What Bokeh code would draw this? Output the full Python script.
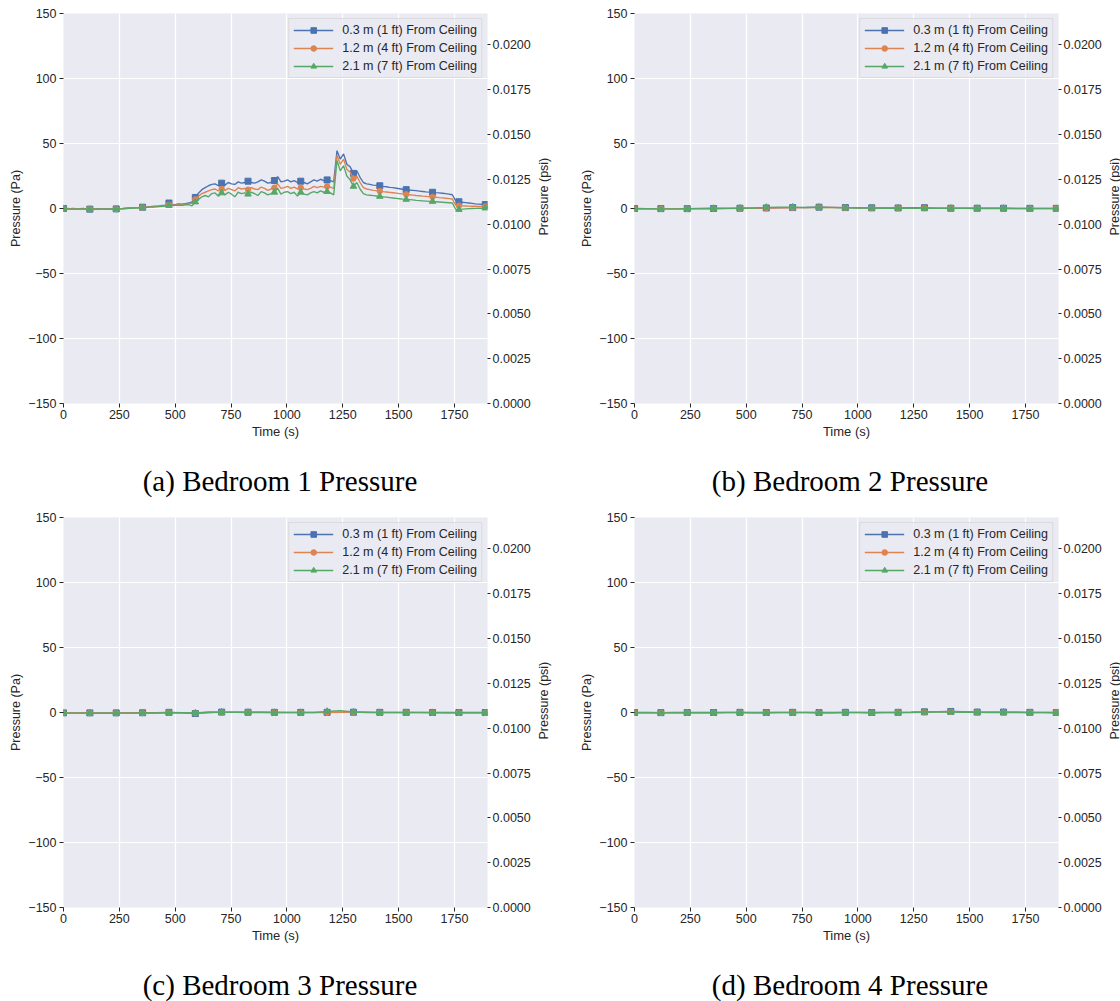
import math
import numpy as np
from bokeh.plotting import figure
from bokeh.models import (Range1d, LinearAxis, FixedTicker, Legend, LegendItem,
                          NumeralTickFormatter, CustomJSTickFormatter)
from bokeh.core.properties import value
from bokeh.layouts import row, column
from bokeh.embed import file_html
from bokeh.resources import INLINE

# ---------------- labels / ticks ----------------
series_labels = ["0.3 m (1 ft) From Ceiling", "1.2 m (4 ft) From Ceiling", "2.1 m (7 ft) From Ceiling"]
captions_top = ["(a) Bedroom 1 Pressure", "(b) Bedroom 2 Pressure"]
captions_bottom = ["(c) Bedroom 3 Pressure", "(d) Bedroom 4 Pressure"]
right_axis_title = "Pressure (psi)"
time_ticks = [0, 250, 500, 750, 1000, 1250, 1500, 1750]
pa_ticks = [-150, -100, -50, 0, 50, 100, 150]
psi_ticks = [0.0, 0.0025, 0.005, 0.0075, 0.01, 0.0125, 0.015, 0.0175, 0.02]

# ---------------- Bedroom 1 (sampled every 14.75 s) ----------------
dt_bed1 = 14.75
bed1_top = [
    0.0, 0.0, -0.2, 0.0, -0.3, -0.2, 0.0, -0.3,
    -0.5, -0.3, -0.4, -0.2, -0.3, -0.4, -0.3, -0.2,
    -0.3, -0.1, 0.0, 0.2, 0.4, 0.5, 0.7, 0.8,
    1.0, 1.1, 1.4, 1.6, 1.8, 2.0, 2.3, 2.6,
    4.2, 3.0, 3.2, 3.5, 3.4, 3.8, 4.2, 5.0,
    8.5, 12.0, 14.5, 16.0, 17.5, 18.5, 19.0, 17.5,
    19.5, 18.0, 20.0, 19.0, 18.5, 20.5, 19.5, 20.0,
    21.0, 20.0, 19.5, 20.5, 22.0, 21.0, 19.5, 20.0,
    21.5, 24.5, 20.5, 21.0, 22.0, 20.5, 21.5, 20.0,
    21.0, 20.0, 19.0, 20.5, 22.0, 21.0, 22.5, 21.5,
    22.0, 21.5, 20.5, 44.5, 38.0, 42.0, 34.0, 32.0,
    27.0, 29.0, 24.0, 20.0, 19.0, 18.5, 18.0, 17.8,
    17.5, 17.0, 16.7, 16.3, 16.0, 15.6, 15.2, 14.8,
    14.5, 14.2, 14.0, 13.7, 13.4, 13.1, 12.8, 12.6,
    12.5, 12.2, 12.0, 11.7, 11.4, 11.1, 10.6, 6.0,
    5.2, 4.8, 4.5, 4.2, 3.9, 3.6, 3.4, 3.2,
    3.0, 2.8,
]
bed1_mid = [
    0.0, -0.2, -0.3, -0.2, -0.4, -0.3, -0.2, -0.4,
    -0.5, -0.4, -0.5, -0.3, -0.4, -0.5, -0.3, -0.3,
    -0.4, -0.2, -0.1, 0.1, 0.3, 0.4, 0.5, 0.6,
    0.8, 0.9, 1.2, 1.3, 1.5, 1.7, 2.0, 2.2,
    2.8, 2.6, 2.8, 3.0, 3.0, 3.3, 3.6, 4.2,
    7.0, 9.5, 11.5, 12.5, 13.5, 14.5, 15.0, 13.5,
    15.0, 14.0, 15.5, 14.5, 13.5, 16.0, 15.0, 15.5,
    14.5, 16.0, 15.0, 14.5, 16.5, 15.5, 14.0, 15.0,
    16.0, 19.0, 15.5, 16.0, 17.0, 15.5, 16.5, 15.0,
    16.0, 15.0, 14.5, 15.5, 17.0, 16.0, 17.0, 16.5,
    17.0, 16.5, 15.5, 41.0, 34.0, 38.0, 30.0, 28.0,
    23.0, 25.0, 20.0, 16.0, 15.0, 14.5, 14.0, 13.7,
    13.4, 13.0, 12.7, 12.4, 12.1, 11.8, 11.5, 11.2,
    10.9, 10.6, 10.3, 10.0, 9.8, 9.5, 9.3, 9.1,
    8.9, 8.7, 8.4, 8.2, 7.9, 7.6, 7.3, 2.6,
    2.2, 2.0, 1.9, 1.8, 1.7, 1.7, 1.6, 1.6,
    1.5, 1.5,
]
bed1_low = [
    -0.2, -0.4, -0.5, -0.3, -0.5, -0.4, -0.3, -0.5,
    -0.7, -0.5, -0.6, -0.4, -0.5, -0.6, -0.4, -0.4,
    -0.5, -0.3, -0.2, 0.0, 0.2, 0.3, 0.4, 0.5,
    0.6, 0.7, 1.0, 1.1, 1.3, 1.5, 1.7, 1.9,
    2.3, 2.2, 2.4, 2.6, 2.5, 2.8, 3.0, 2.0,
    5.0, 7.0, 9.0, 10.0, 9.0, 11.5, 12.0, 9.5,
    12.0, 10.5, 12.5, 11.0, 9.0, 12.5, 11.5, 12.0,
    11.0, 12.5, 11.5, 10.0, 13.0, 12.0, 10.5, 11.5,
    12.5, 15.5, 11.0, 12.5, 13.0, 11.5, 12.5, 9.5,
    12.5, 11.0, 10.5, 12.0, 13.0, 12.0, 13.5, 12.5,
    13.0, 12.0, 10.5, 37.0, 29.0, 33.0, 25.0, 22.0,
    17.0, 20.0, 15.0, 11.5, 10.5, 10.2, 9.9, 9.6,
    9.3, 9.0, 8.7, 8.4, 8.1, 7.8, 7.5, 7.2,
    7.0, 6.8, 6.6, 6.3, 6.1, 5.9, 5.7, 5.5,
    5.4, 5.2, 5.0, 4.8, 4.6, 4.4, 4.2, -0.6,
    -0.8, -0.5, -0.3, -0.1, 0.0, 0.1, 0.2, 0.2,
    0.3, 0.3,
]

# ---------------- Bedrooms 2-4 (sampled every 59 s) ----------------
dt_other = 59.0
bed2_top = [0.0, -0.1, -0.1, -0.2, -0.1, 0.0, 0.0, 0.1, 0.2, 0.2, 0.4, 0.5, 0.7, 0.8, 1.0, 0.9, 0.7,
            0.6, 0.5, 0.4, 0.4, 0.6, 0.6, 0.3, 0.2, 0.3, 0.2, 0.2, 0.2, 0.1, 0.1, 0.1, 0.1]
bed2_mid = [-0.1, -0.2, -0.2, -0.2, -0.1, -0.1, 0.0, 0.0, 0.1, 0.2, 0.3, 0.5, 0.6, 0.7, 0.9, 0.8, 0.6,
            0.5, 0.4, 0.3, 0.3, 0.3, 0.3, 0.2, 0.2, 0.2, 0.1, 0.1, 0.1, 0.0, 0.0, 0.0, 0.0]
bed2_low = [-0.2, -0.2, -0.3, -0.3, -0.2, -0.1, 0.0, 0.1, 0.2, 0.4, 0.8, 1.1, 1.0, 0.8, 0.9, 0.7, 0.5,
            0.4, 0.3, 0.2, 0.2, 0.2, 0.1, 0.1, 0.1, 0.1, 0.0, 0.0, 0.0, -0.1, -0.1, -0.1, -0.1]

bed3_top = [-0.3, -0.3, -0.3, -0.4, -0.3, -0.3, -0.2, -0.2, 0.1, -0.2, -0.8, 0.0, 0.3, 0.3, 0.2, 0.2, 0.1,
            0.1, 0.1, 0.1, 0.1, 0.2, 0.2, 0.2, 0.1, 0.1, 0.1, 0.1, 0.0, 0.0, 0.0, 0.0, 0.0]
bed3_mid = [-0.4, -0.4, -0.4, -0.5, -0.4, -0.4, -0.3, -0.3, 0.0, -0.3, -0.6, -0.1, 0.2, 0.2, 0.1, 0.1, 0.0,
            0.0, 0.0, 0.0, 0.0, 0.1, 0.1, 0.1, 0.0, 0.0, 0.0, 0.0, -0.1, -0.1, -0.1, -0.1, -0.1]
bed3_low = [-0.5, -0.5, -0.5, -0.6, -0.5, -0.5, -0.4, -0.4, -0.1, -0.2, -0.4, 0.4, 0.1, 0.1, 0.0, 0.0, 0.0,
            -0.1, -0.1, -0.1, 0.8, 1.5, 0.4, 0.0, -0.1, -0.1, -0.1, -0.1, -0.1, -0.2, -0.2, -0.2, -0.2]

bed4_top = [0.0, 0.0, -0.1, 0.0, 0.0, 0.0, 0.0, 0.1, 0.1, 0.0, 0.0, 0.1, 0.1, 0.1, 0.0, 0.0, 0.1,
            0.1, 0.0, 0.1, 0.1, 0.2, 0.5, 0.7, 0.8, 0.6, 0.3, 0.2, 0.3, 0.2, 0.1, 0.1, 0.0]
bed4_mid = [-0.1, -0.1, -0.2, -0.1, -0.1, -0.1, -0.1, 0.0, 0.0, -0.1, -0.1, 0.0, 0.0, 0.0, -0.1, -0.1, 0.0,
            0.0, -0.1, 0.0, 0.0, 0.1, 0.3, 0.5, 0.5, 0.4, 0.2, 0.1, 0.2, 0.1, 0.0, 0.0, -0.1]
bed4_low = [-0.2, -0.2, -0.3, -0.2, -0.2, -0.2, -0.2, -0.1, -0.1, -0.2, -0.2, -0.1, -0.1, -0.1, -0.2, -0.2, -0.1,
            -0.1, -0.2, -0.1, -0.1, 0.0, 0.2, 0.3, 0.3, 0.2, 0.1, 0.0, 0.1, 0.0, -0.1, -0.1, -0.2]

COLORS = ["#4C72B0", "#DD8452", "#55A868"]
MARKERS = ["square", "circle", "triangle"]
MSIZES = [6, 5.5, 6.5]
TXT = "#262626"
SANS = "Liberation Sans"
FW, FH = 424, 390
TOP_B, BOT_B, RIGHT_B = 13, 40, 50
PANEL_H = TOP_B + FH + BOT_B


def make_panel(dt, series, mark_every, left_border):
    n = len(series[0])
    t = np.arange(n) * dt
    p = figure(frame_width=FW, frame_height=FH,
               x_range=Range1d(0, 1898), y_range=Range1d(-150, 150),
               output_backend="svg", toolbar_location=None, title=None,
               min_border_left=left_border, min_border_right=RIGHT_B, min_border_top=TOP_B,
               min_border_bottom=BOT_B,
               background_fill_color="#EAEAF2", border_fill_color="white",
               outline_line_color=None)
    p.extra_y_ranges = {"psi": Range1d(0, 0.021756)}
    rax = LinearAxis(y_range_name="psi",
                     ticker=FixedTicker(ticks=psi_ticks),
                     formatter=NumeralTickFormatter(format="0.0000"))
    p.add_layout(rax, "right")

    p.xaxis.ticker = FixedTicker(ticks=time_ticks)
    p.xaxis.axis_label = "Time (s)"
    p.yaxis[0].ticker = FixedTicker(ticks=pa_ticks)
    p.yaxis[0].axis_label = "Pressure (Pa)"
    p.yaxis[0].formatter = CustomJSTickFormatter(
        code="return (tick < 0 ? '\u2212' : '') + Math.abs(tick).toFixed(0);")

    for ax in p.axis:
        ax.axis_line_color = None
        ax.major_tick_line_color = TXT
        ax.major_tick_in = 0
        ax.major_tick_out = 4
        ax.minor_tick_line_color = None
        ax.major_label_text_font = SANS
        ax.major_label_text_font_size = "12.5px"
        ax.major_label_text_color = TXT
        ax.major_label_standoff = 3
        ax.axis_label_text_font = SANS
        ax.axis_label_text_font_style = "normal"
        ax.axis_label_text_font_size = "12.5px"
        ax.axis_label_text_color = TXT
        ax.axis_label_standoff = 2
    rax.major_tick_out = 3
    rax.major_label_standoff = 2
    p.xaxis.major_label_standoff = 2
    p.xaxis.axis_label_text_font_size = "13px"
    p.xaxis.axis_label_standoff = 2

    p.xgrid.ticker = FixedTicker(ticks=time_ticks)
    p.ygrid.ticker = FixedTicker(ticks=pa_ticks)
    p.grid.grid_line_color = "white"
    p.grid.grid_line_width = 1.2

    items = []
    for vals, col, mk, ms, lab in zip(series, COLORS, MARKERS, MSIZES, series_labels):
        vals = np.asarray(vals, dtype=float)
        lr = p.line(t, vals, line_color=col, line_width=1.35)
        sr = p.scatter(t[::mark_every], vals[::mark_every], marker=mk, size=ms,
                       fill_color=col, line_color=col)
        items.append(LegendItem(label=lab, renderers=[lr, sr]))

    leg = Legend(items=items, location="top_right", margin=5, padding=4, spacing=4,
                 glyph_width=40, glyph_height=14, label_height=14, label_standoff=9,
                 label_text_font=SANS, label_text_font_size="12.5px", label_text_color=TXT,
                 background_fill_color="#EAEAF2", background_fill_alpha=0.8,
                 border_line_color="#CCCCCC", border_line_width=1)
    p.add_layout(leg)
    return p


def blank_strip(width, height):
    # a plain strip without axes whose data units equal pixels
    c = figure(width=width, height=height, x_range=Range1d(0, width), y_range=Range1d(0, height),
               x_axis_location=None, y_axis_location=None, output_backend="svg",
               toolbar_location=None, title=None, min_border=0,
               outline_line_color=None, background_fill_color="white",
               border_fill_color="white")
    c.grid.visible = False
    return c


def psi_title_strip(width, text_x):
    # the right-hand axis title, reading bottom-to-top
    c = blank_strip(width, PANEL_H)
    c.text(x=[text_x], y=[PANEL_H - TOP_B - FH / 2], text=[right_axis_title], angle=math.pi / 2,
           text_font=value(SANS), text_font_size=value("12.5px"), text_color=TXT,
           text_align="center", text_baseline="middle")
    return c


def caption_strip(texts, height, text_y):
    c = blank_strip(1110, height)
    c.text(x=[279.5, 849.5], y=[text_y, text_y], text=texts,
           text_font=value("Liberation Serif"), text_font_size=value("29px"),
           text_align="center", text_baseline="middle", text_color="black")
    return c


pa = make_panel(dt_bed1, [bed1_top, bed1_mid, bed1_low], 8, 63)
pb = make_panel(dt_other, [bed2_top, bed2_mid, bed2_low], 2, 55)
pc = make_panel(dt_other, [bed3_top, bed3_mid, bed3_low], 2, 63)
pd = make_panel(dt_other, [bed4_top, bed4_mid, bed4_low], 2, 55)

row1 = row(pa, psi_title_strip(40, 6.5), pb, psi_title_strip(14, 6.5), spacing=0)
row2 = row(pc, psi_title_strip(40, 6.5), pd, psi_title_strip(14, 6.5), spacing=0)
cap1 = caption_strip(captions_top, 61, 24)
cap2 = caption_strip(captions_bottom, 54, 17)

layout = column(row1, cap1, row2, cap2, spacing=0)

with open("out.html", "w") as f:
    f.write(file_html(layout, INLINE))
